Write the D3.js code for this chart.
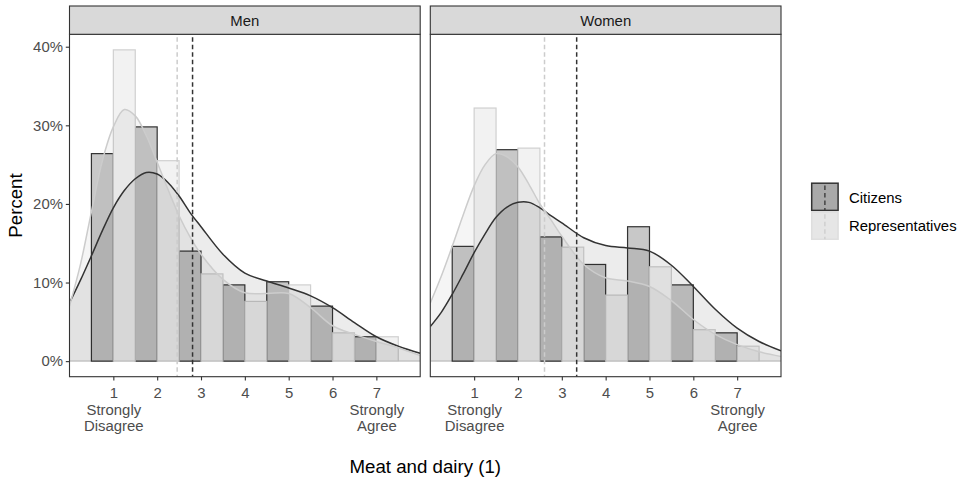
<!DOCTYPE html>
<html>
<head>
<meta charset="utf-8">
<script src="https://cdn.jsdelivr.net/npm/d3@7"></script>
<style>
  body { margin: 0; background: #fff; }
  text { font-family: "Liberation Sans", Arial, sans-serif; }
</style>
</head>
<body>
<svg id="chart" width="966" height="481"></svg>
<script>
// Response categories (1 = Strongly Disagree ... 7 = Strongly Agree)
const levels = [1, 2, 3, 4, 5, 6, 7];
const panels = ["Men", "Women"];
const groups = ["Citizens", "Representatives"];
const tickLabels = ["1\nStrongly\nDisagree", "2", "3", "4", "5", "6", "7\nStrongly\nAgree"];

// Histogram shares (%) per level
const menCitizens = [26.4, 29.8, 14.0, 9.7, 10.1, 7.0, 3.1];
const menReps = [39.6, 25.5, 11.1, 7.6, 9.7, 3.6, 3.1];
const womenCitizens = [14.6, 26.9, 15.8, 12.3, 17.1, 9.7, 3.6];
const womenReps = [32.2, 27.1, 14.5, 8.4, 12.0, 4.0, 1.9];

// Density curves (share per unit)
const densityX = [0, 0.25, 0.5, 0.75, 1, 1.25, 1.5, 1.75, 2, 2.25, 2.5, 2.75, 3, 3.5, 4, 4.5, 5, 5.5, 6, 6.5, 7, 7.5, 8];
const menCitizensDensity = [0.074, 0.103, 0.134, 0.166, 0.195, 0.217, 0.232, 0.240, 0.238, 0.227, 0.210, 0.189, 0.171, 0.136, 0.112, 0.102, 0.093, 0.083, 0.068, 0.049, 0.031, 0.019, 0.010];
const menRepsDensity = [0.070, 0.123, 0.190, 0.255, 0.298, 0.320, 0.312, 0.287, 0.253, 0.218, 0.185, 0.158, 0.136, 0.104, 0.087, 0.086, 0.086, 0.068, 0.045, 0.034, 0.025, 0.017, 0.007];
const womenCitizensDensity = [0.044, 0.062, 0.085, 0.111, 0.138, 0.162, 0.183, 0.196, 0.202, 0.202, 0.195, 0.185, 0.176, 0.157, 0.147, 0.144, 0.140, 0.122, 0.095, 0.066, 0.042, 0.025, 0.013];
const womenRepsDensity = [0.074, 0.108, 0.146, 0.186, 0.223, 0.250, 0.264, 0.260, 0.247, 0.225, 0.200, 0.180, 0.159, 0.123, 0.106, 0.102, 0.095, 0.077, 0.053, 0.034, 0.021, 0.012, 0.006];

const yTicks = [0, 0.1, 0.2, 0.3, 0.4];

const panelData = {
  Men: { Citizens: { bars: menCitizens, dens: menCitizensDensity }, Representatives: { bars: menReps, dens: menRepsDensity } },
  Women: { Citizens: { bars: womenCitizens, dens: womenCitizensDensity }, Representatives: { bars: womenReps, dens: womenRepsDensity } }
};

// Styling per group
const style = {
  Citizens: { fill: "#c8c8c8", stroke: "#333333", line: "#333333", area: 0.075, offset: -0.5, key: "#a9a9a9", keyStroke: "#333333" },
  Representatives: { fill: "#f2f2f2", stroke: "#d0d0d0", line: "#cccccc", area: 0.04, offset: 0, key: "#e6e6e6", keyStroke: "#dedede" }
};

const svg = d3.select("#chart");
const panelLeft = [69.5, 430.3];
const panelWidth = 350.7;
const panelTop = 34.3, panelBottom = 376.7;
const stripTop = 6;

const maxShare = d3.max([menCitizens, menReps, womenCitizens, womenReps].flat()) / 100;
const pad = maxShare * 0.05;
const y = d3.scaleLinear().domain([-pad, maxShare + pad]).range([panelBottom, panelTop]);

panels.forEach(function (p, i) {
  const x = d3.scaleLinear().domain([0, 8]).range([panelLeft[i], panelLeft[i] + panelWidth]);
  const g = svg.append("g");

  // clip to the panel
  g.append("clipPath").attr("id", "clip" + i)
    .append("rect").attr("x", panelLeft[i]).attr("y", panelTop)
    .attr("width", panelWidth).attr("height", panelBottom - panelTop);
  const plot = g.append("g").attr("clip-path", "url(#clip" + i + ")");

  // baseline
  plot.append("line")
    .attr("x1", x(0)).attr("x2", x(8)).attr("y1", y(0)).attr("y2", y(0))
    .attr("stroke", "#cccccc").attr("stroke-width", 1.2);

  // histogram bars, citizens first then representatives
  groups.forEach(function (grp) {
    const s = style[grp];
    plot.append("g").selectAll("rect")
      .data(panelData[p][grp].bars)
      .join("rect")
      .attr("x", (d, k) => x(levels[k] + s.offset))
      .attr("width", x(0.5) - x(0))
      .attr("y", d => y(d / 100))
      .attr("height", d => y(0) - y(d / 100))
      .attr("fill", s.fill)
      .attr("stroke", s.stroke)
      .attr("stroke-width", 1.2);
  });

  // density fills and lines
  groups.forEach(function (grp) {
    const s = style[grp];
    const pts = densityX.map((v, k) => [v, panelData[p][grp].dens[k]]);
    plot.append("path").datum(pts)
      .attr("d", d3.area().x(d => x(d[0])).y0(y(0)).y1(d => y(d[1])).curve(d3.curveCatmullRom))
      .attr("fill", "#000").attr("fill-opacity", s.area);
  });
  groups.forEach(function (grp) {
    const s = style[grp];
    const pts = densityX.map((v, k) => [v, panelData[p][grp].dens[k]]);
    plot.append("path").datum(pts)
      .attr("d", d3.line().x(d => x(d[0])).y(d => y(d[1])).curve(d3.curveCatmullRom))
      .attr("fill", "none").attr("stroke", s.line).attr("stroke-width", 1.5);
  });

  // mean lines
  groups.forEach(function (grp) {
    const bars = panelData[p][grp].bars;
    const mean = d3.sum(bars, (d, k) => d * levels[k]) / d3.sum(bars);
    plot.append("line")
      .attr("x1", x(mean)).attr("x2", x(mean))
      .attr("y1", panelTop + 3).attr("y2", panelBottom)
      .attr("stroke", style[grp].line).attr("stroke-width", 1.5)
      .attr("stroke-dasharray", "4.5,3");
  });

  // panel border
  g.append("rect")
    .attr("x", panelLeft[i]).attr("y", panelTop)
    .attr("width", panelWidth).attr("height", panelBottom - panelTop)
    .attr("fill", "none").attr("stroke", "#333333").attr("stroke-width", 1.1);

  // strip
  g.append("rect")
    .attr("x", panelLeft[i]).attr("y", stripTop)
    .attr("width", panelWidth).attr("height", panelTop - stripTop)
    .attr("fill", "#d9d9d9").attr("stroke", "#333333").attr("stroke-width", 1.1);
  g.append("text")
    .attr("x", panelLeft[i] + panelWidth / 2).attr("y", 26)
    .attr("text-anchor", "middle").attr("font-size", 14.9).attr("fill", "#1a1a1a")
    .text(p);

  // x axis
  const xAxis = g.append("g").attr("transform", "translate(0," + panelBottom + ")")
    .call(d3.axisBottom(x).tickValues(levels).tickSize(3.7).tickFormat(""));
  xAxis.select(".domain").remove();
  xAxis.selectAll(".tick line").attr("stroke", "#333333").attr("stroke-width", 1.1);
  xAxis.selectAll(".tick").each(function (d, k) {
    const t = d3.select(this).append("text")
      .attr("fill", "#4d4d4d").attr("font-size", 14.9).attr("text-anchor", "middle");
    tickLabels[k].split("\n").forEach(function (line, j) {
      t.append("tspan").attr("x", 0).attr("y", 21.3 + j * 16.6).text(line);
    });
  });

  // y axis on the first panel only
  if (i === 0) {
    const yAxis = g.append("g").attr("transform", "translate(" + panelLeft[i] + ",0)")
      .call(d3.axisLeft(y).tickValues(yTicks).tickSize(3.7).tickPadding(2.9).tickFormat(d3.format(".0%")));
    yAxis.select(".domain").remove();
    yAxis.selectAll(".tick line").attr("stroke", "#333333").attr("stroke-width", 1.1);
    yAxis.selectAll(".tick text").attr("fill", "#4d4d4d").attr("font-size", 14.9)
      .attr("font-family", "Liberation Sans, Arial, sans-serif");
  }
});

// axis titles
svg.append("text")
  .attr("x", (panelLeft[0] + panelLeft[1] + panelWidth) / 2).attr("y", 473)
  .attr("text-anchor", "middle").attr("font-size", 18.7).attr("fill", "#000")
  .text("Meat and dairy (1)");
svg.append("text")
  .attr("transform", "translate(22," + (panelTop + panelBottom) / 2 + ") rotate(-90)")
  .attr("text-anchor", "middle").attr("font-size", 18.7).attr("fill", "#000")
  .text("Percent");

// legend
const legend = svg.append("g").attr("transform", "translate(811,182.5)");
groups.forEach(function (grp, k) {
  const s = style[grp];
  const row = legend.append("g").attr("transform", "translate(0," + k * 28.8 + ")");
  row.append("rect").attr("x", 0.7).attr("y", 0.7).attr("width", 26.4).attr("height", 27.2)
    .attr("fill", s.key).attr("stroke", s.keyStroke).attr("stroke-width", 1.5);
  row.append("line").attr("x1", 13.9).attr("x2", 13.9).attr("y1", 3).attr("y2", 28)
    .attr("stroke", s.line).attr("stroke-width", 1.3).attr("stroke-dasharray", "4.5,3");
  row.append("text").attr("x", 38).attr("y", 20).attr("font-size", 14.9).attr("fill", "#000")
    .text(grp);
});
</script>
</body>
</html>
